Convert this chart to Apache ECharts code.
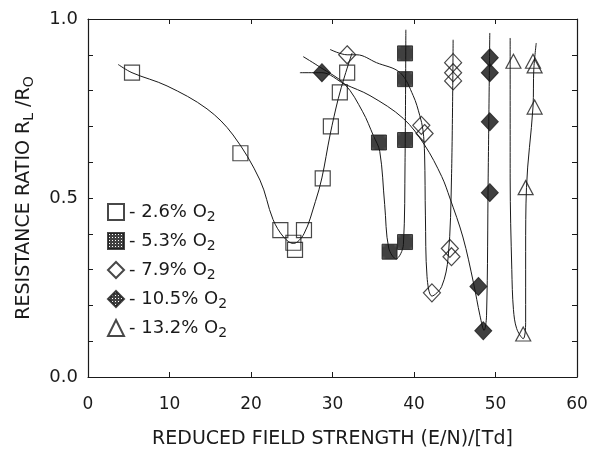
<!DOCTYPE html>
<html><head><meta charset="utf-8">
<script src="https://cdn.jsdelivr.net/npm/echarts@6/dist/echarts.min.js"></script>
<style>html,body{margin:0;padding:0;background:#fff}#c{width:591px;height:454px}</style>
</head><body><div id="c"></div>
<script>
// ---- data ----
const seriesNames = ['2.6% O2', '5.3% O2', '7.9% O2', '10.5% O2', '13.2% O2'];
const legendLabels = ['2.6% O', '5.3% O', '7.9% O', '10.5% O', '13.2% O'];
const yTickLabels = ['0.0', '0.5', '1.0'];
const xTickLabels = ['0', '10', '20', '30', '40', '50', '60'];

// measured points [E/N (Td), R_L/R_O]
const pts26 = [[5.4,0.85],[18.7,0.625],[23.6,0.41],[25.2,0.375],[25.4,0.355],[26.5,0.41],[28.8,0.555],[29.8,0.70],[30.9,0.795],[31.8,0.85]];
const pts53 = [[35.7,0.655],[38.9,0.662],[38.9,0.904],[38.9,0.832],[37.0,0.35],[38.9,0.377]];
const pts79 = [[31.8,0.90],[44.8,0.878],[44.8,0.85],[44.8,0.827],[40.9,0.703],[41.3,0.68],[44.4,0.359],[44.6,0.336],[42.2,0.235]];
const pts105 = [[28.7,0.85],[49.3,0.892],[49.3,0.85],[49.3,0.713],[49.3,0.515],[47.9,0.253],[48.5,0.129]];
const pts132 = [[52.2,0.882],[54.6,0.882],[54.8,0.869],[54.8,0.754],[53.7,0.529],[53.4,0.12]];

// hand-drawn fitted curves
const fit26 = [[3.7,0.873],[5.4,0.85],[9.7,0.813],[14.6,0.749],[17.8,0.676],[21.1,0.55],[22.7,0.44],[24.0,0.391],[25.2,0.373],[26.5,0.40],[27.9,0.49],[28.7,0.556],[29.7,0.676],[30.7,0.777],[31.5,0.841],[32.4,0.905]];
const fit53 = [[26.4,0.895],[28.5,0.865],[31.5,0.818],[33.7,0.741],[35.0,0.675],[35.8,0.63],[36.4,0.482],[36.9,0.36],[37.8,0.33],[38.7,0.37],[38.9,0.6],[39.0,0.97]];
const fit79 = [[29.7,0.915],[31.8,0.90],[33.0,0.90],[35.4,0.878],[38.3,0.85],[39.9,0.786],[40.7,0.731],[41.1,0.69],[41.3,0.62],[41.4,0.45],[41.6,0.28],[42.2,0.226],[43.4,0.253],[44.2,0.336],[44.6,0.556],[44.8,0.942]];
const fit105 = [[26.0,0.85],[28.7,0.85],[31.5,0.818],[34.6,0.786],[38.7,0.722],[41.3,0.648],[43.4,0.56],[44.4,0.50],[46.0,0.391],[47.3,0.263],[48.1,0.171],[48.6,0.13],[48.9,0.171],[49.1,0.556],[49.3,0.961]];
const fit132 = [[51.8,0.947],[51.8,0.556],[52.0,0.3],[52.2,0.189],[52.6,0.135],[53.4,0.107],[53.7,0.152],[53.7,0.35],[53.8,0.529],[54.6,0.754],[54.7,0.86],[55.0,0.933]];

// ---- rendering ----
function hatch() {
  const c = document.createElement('canvas');
  c.width = 3; c.height = 3;
  const g = c.getContext('2d');
  g.fillStyle = '#111'; g.fillRect(0, 0, 3, 3);
  g.fillStyle = '#fff'; g.fillRect(1, 1, 1, 1);
  return { image: c, repeat: 'repeat' };
}
const FONT = 'DejaVu Sans';
const INK = '#1a1a1a';
const openStyle = { color: 'rgba(255,255,255,0)', borderColor: INK, borderWidth: 1.2 };
const darkStyle = { color: hatch(), borderColor: INK, borderWidth: 1 };

const allPts = [pts26, pts53, pts79, pts105, pts132];
const allFits = [fit26, fit53, fit79, fit105, fit132];
const symbols = ['rect', 'rect', 'diamond', 'diamond', 'triangle'];
const sizes = [15, 15, [17, 18], [17, 18], [15, 14]];
const styles = [openStyle, darkStyle, openStyle, darkStyle, openStyle];

const series = [];
allFits.forEach((f, i) => series.push({
  name: 'fit ' + seriesNames[i], type: 'line', data: f, smooth: 0.35,
  showSymbol: false, silent: true, z: 1,
  lineStyle: { color: INK, width: 1 }
}));
allPts.forEach((p, i) => series.push({
  name: seriesNames[i], type: 'scatter', data: p, symbol: symbols[i],
  symbolSize: sizes[i], itemStyle: styles[i], z: 3
}));

const axisLineStyle = { show: true, onZero: false, lineStyle: { color: INK, width: 1.2 } };
const chart = echarts.init(document.getElementById('c'), null, { renderer: 'canvas' });
chart.setOption({
  animation: false,
  backgroundColor: '#fff',
  grid: { left: 88, right: 14, top: 19, bottom: 72 },
  xAxis: [
    {
      type: 'value', min: 0, max: 60, interval: 10, position: 'bottom',
      axisLine: axisLineStyle, splitLine: { show: false },
      axisTick: { inside: true, length: 5, lineStyle: { color: INK } },
      axisLabel: { fontFamily: FONT, fontSize: 17, color: INK, margin: 19,
        formatter: v => xTickLabels[Math.round(v / 10)] },
      name: 'REDUCED FIELD STRENGTH (E/N)/[Td]', nameLocation: 'middle', nameGap: 53,
      nameTextStyle: { fontFamily: FONT, fontSize: 19, color: INK }
    },
    {
      type: 'value', min: 0, max: 60, interval: 10, position: 'top',
      axisLine: axisLineStyle, splitLine: { show: false },
      axisTick: { inside: true, length: 5, lineStyle: { color: INK } },
      axisLabel: { show: false }
    }
  ],
  yAxis: [
    {
      type: 'value', min: 0, max: 1, interval: 0.1, position: 'left',
      axisLine: axisLineStyle, splitLine: { show: false },
      axisTick: { inside: true, length: 5, lineStyle: { color: INK } },
      axisLabel: { fontFamily: FONT, fontSize: 18, color: INK, margin: 10,
        formatter: v => { const k = v * 2; return Math.abs(k - Math.round(k)) < 1e-6 ? yTickLabels[Math.round(k)] : ''; } },
      name: '{a|RESISTANCE RATIO R}{s|L}{a| /R}{s|O}', nameLocation: 'middle', nameGap: 52, nameRotate: 90,
      nameTextStyle: { fontFamily: FONT, fontSize: 19, color: INK,
        rich: { a: { fontFamily: FONT, fontSize: 19, color: INK },
                s: { fontFamily: FONT, fontSize: 14, color: INK, padding: [10, 0, 0, 0] } } }
    },
    {
      type: 'value', min: 0, max: 1, interval: 0.1, position: 'right',
      axisLine: axisLineStyle, splitLine: { show: false },
      axisTick: { inside: true, length: 5, lineStyle: { color: INK } },
      axisLabel: { show: false }
    }
  ],
  legend: {
    orient: 'vertical', left: 102, top: 198, itemWidth: 16, itemHeight: 16, itemGap: 8,
    data: seriesNames, selectedMode: false,
    formatter: name => '{t|- ' + legendLabels[seriesNames.indexOf(name)] + '}{s|2}',
    textStyle: { fontFamily: FONT, fontSize: 18, color: INK,
      rich: { t: { fontFamily: FONT, fontSize: 18, color: INK },
              s: { fontFamily: FONT, fontSize: 14, color: INK, padding: [10, 0, 0, 0] } } }
  },
  series: series
});
</script>
</body></html>
